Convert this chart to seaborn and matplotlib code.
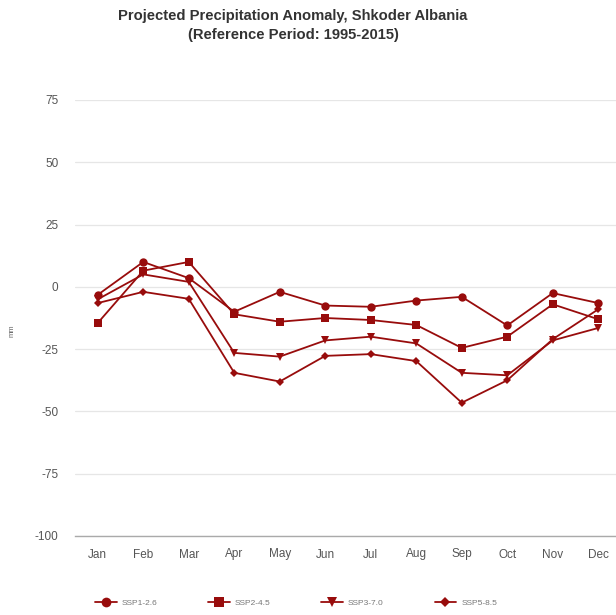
import matplotlib
matplotlib.use("Agg")
import matplotlib.pyplot as plt
import seaborn as sns
import pandas as pd
from matplotlib.lines import Line2D

months = ["Jan", "Feb", "Mar", "Apr", "May", "Jun", "Jul", "Aug", "Sep", "Oct", "Nov", "Dec"]
ssp126 = [-3.2, 10.0, 3.5, -10.0, -2.0, -7.5, -8.0, -5.5, -4.0, -15.5, -2.5, -6.5]
ssp245 = [-14.5, 6.5, 10.0, -11.0, -14.0, -12.5, -13.3, -15.3, -24.5, -20.0, -7.0, -13.0]
ssp370 = [-5.0, 5.0, 2.0, -26.5, -28.0, -21.5, -20.0, -22.7, -34.5, -35.5, -21.5, -16.5]
ssp585 = [-6.5, -2.0, -4.8, -34.5, -38.0, -27.7, -27.0, -29.8, -46.5, -37.5, -21.0, -9.0]
scenarios = ["SSP1-2.6", "SSP2-4.5", "SSP3-7.0", "SSP5-8.5"]
yticks = [-100, -75, -50, -25, 0, 25, 50, 75]

df = pd.DataFrame({
    "month": months * 4,
    "x": list(range(12)) * 4,
    "value": ssp126 + ssp245 + ssp370 + ssp585,
    "scenario": [s for s in scenarios for _ in months],
})

sns.set_style("white")
plt.rcParams["font.family"] = ["Liberation Sans", "DejaVu Sans"]

color = "#980c0c"
markers = ["o", "s", "v", "D"]
msizes = [6.0, 6.0, 6.0, 4.0]

fig = plt.figure(figsize=(6.16, 6.15), dpi=100)
ax = fig.add_axes([75 / 616, 1 - 536 / 615, 546 / 616, 436 / 615])

for scen, m, ms in zip(scenarios, markers, msizes):
    sub = df[df["scenario"] == scen]
    sns.lineplot(data=sub, x="x", y="value", ax=ax, color=color, marker=m,
                 markersize=ms, markeredgewidth=0, linewidth=1.3, legend=False)

ax.set_xlim(-0.5, 11.5)
ax.set_ylim(-100, 75)
ax.set_xticks(range(12))
ax.set_xticklabels(months)
ax.set_yticks(yticks)
ax.set_yticklabels([str(t) for t in yticks])
ax.tick_params(axis="both", length=0, colors="#555555", labelsize=8.5)
ax.tick_params(axis="x", pad=9)
ax.tick_params(axis="y", pad=12)
ax.yaxis.grid(True, color="#e6e6e6", linewidth=0.9)
ax.set_axisbelow(True)
for s in ["top", "right", "left"]:
    ax.spines[s].set_visible(False)
ax.spines["bottom"].set_color("#aaaaaa")
ax.spines["bottom"].set_linewidth(1.0)
ax.set_xlabel("")
ax.set_ylabel("mm", fontsize=5.5, color="#666666")
ax.yaxis.set_label_coords((16 - 75) / 546, 0.47)

fig.text(293 / 616, 1 - 16 / 615, "Projected Precipitation Anomaly, Shkoder Albania",
         ha="center", va="center", fontsize=10.6, fontweight="bold", color="#333333")
fig.text(293 / 616, 1 - 35 / 615, "(Reference Period: 1995-2015)",
         ha="center", va="center", fontsize=10.6, fontweight="bold", color="#333333")

handles = [Line2D([0], [0], color=color, marker=m, markersize=ms + 1, markeredgewidth=0,
                  linewidth=1.3) for m, ms in zip(markers, msizes)]
leg = fig.legend(handles, scenarios, loc="center", bbox_to_anchor=(296 / 616, 1 - 603 / 615),
                 ncol=4, frameon=False, fontsize=6, handlelength=2.6, columnspacing=6.1,
                 handletextpad=0.6)
for t in leg.get_texts():
    t.set_color("#777777")

fig.savefig("out.png", dpi=100)
